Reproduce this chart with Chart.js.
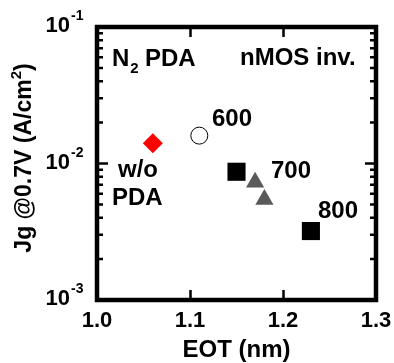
<!DOCTYPE html>
<html>
<head>
<meta charset="utf-8">
<script src="https://cdn.jsdelivr.net/npm/chart.js@4"></script>
<style>
  html, body { margin: 0; padding: 0; background: #fff; }
  #wrap { width: 394px; height: 363px; }
</style>
</head>
<body>
<div id="wrap"><canvas id="chart" width="394" height="363"></canvas></div>
<script>
// data (EOT in nm, Jg in A/cm2)
const woPdaEot = [1.06];
const woPdaJg = [0.0141];
const pda600Eot = [1.11];
const pda600Jg = [0.0160];
const squareEot = [1.15, 1.23];
const squareJg = [0.0087, 0.0032];
const triEot = [1.17, 1.18];
const triJg = [0.0073, 0.00545];

const xTicks = [1.0, 1.1, 1.2, 1.3];
const yDecades = [-3, -2, -1];

const FONT = "'Liberation Sans', Arial, sans-serif";

function pts(xs, ys) {
    return xs.map((x, i) => ({ x: x, y: ys[i] }));
}

// frame, inward ticks and all the text
const decorPlugin = {
    id: 'decor',
    afterDraw(chart) {
        const ctx = chart.ctx;
        const a = chart.chartArea;
        const xs = chart.scales.x, ys = chart.scales.y;
        ctx.save();
        ctx.strokeStyle = '#000';
        ctx.fillStyle = '#000';

        // inward ticks on all four sides
        ctx.lineWidth = 2.5;
        ctx.beginPath();
        xTicks.slice(1, -1).forEach(v => {
            const px = Math.round(xs.getPixelForValue(v)) + 0.5;
            ctx.moveTo(px, a.bottom); ctx.lineTo(px, a.bottom - 10);
            ctx.moveTo(px, a.top); ctx.lineTo(px, a.top + 10);
        });
        for (let d = -3; d < -1; d++) {
            for (let m = 2; m <= 9; m++) {
                const py = ys.getPixelForValue(m * Math.pow(10, d));
                ctx.moveTo(a.left, py); ctx.lineTo(a.left + 6, py);
                ctx.moveTo(a.right, py); ctx.lineTo(a.right - 6, py);
            }
        }
        const pyMid = ys.getPixelForValue(0.01);
        ctx.moveTo(a.left, pyMid); ctx.lineTo(a.left + 11, pyMid);
        ctx.moveTo(a.right, pyMid); ctx.lineTo(a.right - 11, pyMid);
        ctx.stroke();

        // frame
        ctx.lineWidth = 4.5;
        ctx.strokeRect(a.left, a.top, a.right - a.left, a.bottom - a.top);

        // x tick labels
        ctx.font = 'bold 22px ' + FONT;
        ctx.textAlign = 'center';
        ctx.textBaseline = 'alphabetic';
        xTicks.forEach(v => {
            ctx.fillText(v.toFixed(1), xs.getPixelForValue(v), 327);
        });

        // y tick labels 10^n
        yDecades.forEach(d => {
            const py = ys.getPixelForValue(Math.pow(10, d));
            ctx.font = 'bold 22px ' + FONT;
            ctx.textAlign = 'right';
            ctx.fillText('10', 70, py + 5);
            ctx.font = 'bold 14px ' + FONT;
            ctx.textAlign = 'left';
            ctx.fillText(String(d), 71, py - 7);
        });

        // x title
        ctx.font = 'bold 24px ' + FONT;
        ctx.textAlign = 'center';
        ctx.fillText('EOT (nm)', (a.left + a.right) / 2, 357);

        // y title (rotated, with superscript)
        ctx.save();
        ctx.translate(31, 158);
        ctx.rotate(-Math.PI / 2);
        ctx.textAlign = 'left';
        const big = 'bold 23px ' + FONT, small = 'bold 15px ' + FONT;
        const p1 = 'Jg @0.7V (A/cm', p2 = '2', p3 = ')';
        ctx.font = big; const w1 = ctx.measureText(p1).width, w3 = ctx.measureText(p3).width;
        ctx.font = small; const w2 = ctx.measureText(p2).width;
        let x0 = -(w1 + w2 + w3) / 2;
        ctx.font = big; ctx.fillText(p1, x0, 0);
        ctx.font = small; ctx.fillText(p2, x0 + w1, -10);
        ctx.font = big; ctx.fillText(p3, x0 + w1 + w2, 0);
        ctx.restore();

        // annotations
        ctx.textAlign = 'left';
        ctx.font = 'bold 24px ' + FONT;
        ctx.fillText('N', 112, 66);
        const wN = ctx.measureText('N').width;
        ctx.font = 'bold 15px ' + FONT;
        ctx.fillText('2', 112 + wN + 1, 73);
        ctx.font = 'bold 24px ' + FONT;
        ctx.fillText('PDA', 145, 66);
        ctx.fillText('nMOS inv.', 240, 65);
        ctx.fillText('600', 212, 126);
        ctx.fillText('700', 271, 178);
        ctx.fillText('800', 318, 218);
        ctx.fillText('w/o', 118, 177);
        ctx.fillText('PDA', 112, 205);
        ctx.restore();
    }
};

new Chart(document.getElementById('chart').getContext('2d'), {
    type: 'scatter',
    data: {
        datasets: [
            {
                label: 'w/o PDA',
                data: pts(woPdaEot, woPdaJg),
                pointStyle: 'rectRot',
                pointRadius: 10,
                backgroundColor: '#ff0000',
                borderColor: '#ff0000',
                borderWidth: 0
            },
            {
                label: '600',
                data: pts(pda600Eot, pda600Jg),
                pointStyle: 'circle',
                pointRadius: 8.5,
                backgroundColor: '#ffffff',
                borderColor: '#000000',
                borderWidth: 1
            },
            {
                label: 'square',
                data: pts(squareEot, squareJg),
                pointStyle: 'rect',
                pointRadius: 12.8,
                backgroundColor: '#000000',
                borderColor: '#000000',
                borderWidth: 0
            },
            {
                label: 'triangle',
                data: pts(triEot, triJg),
                pointStyle: 'triangle',
                pointRadius: 10.5,
                backgroundColor: '#5a5a5a',
                borderColor: '#5a5a5a',
                borderWidth: 0
            }
        ]
    },
    options: {
        responsive: false,
        animation: false,
        events: [],
        layout: { padding: { top: 27, right: 18, left: 0, bottom: 0 } },
        plugins: { legend: { display: false }, tooltip: { enabled: false } },
        scales: {
            x: {
                type: 'linear',
                min: 1.0,
                max: 1.3,
                grid: { display: false },
                border: { display: false },
                ticks: { display: false },
                afterFit(s) { s.height = 63; }
            },
            y: {
                type: 'logarithmic',
                min: 0.001,
                max: 0.1,
                grid: { display: false },
                border: { display: false },
                ticks: { display: false },
                afterFit(s) { s.width = 97; }
            }
        }
    },
    plugins: [decorPlugin]
});
</script>
</body>
</html>
